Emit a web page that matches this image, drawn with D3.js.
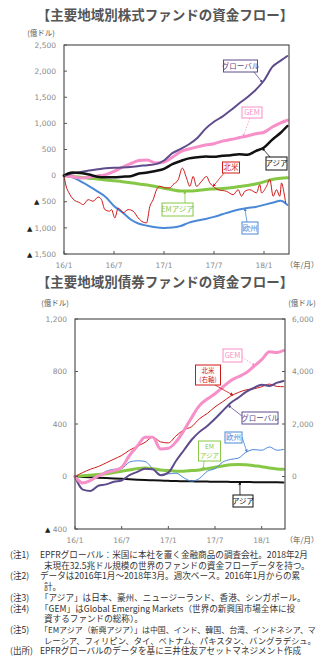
<!DOCTYPE html>
<html><head><meta charset="utf-8">
<script src="https://cdn.jsdelivr.net/npm/d3@7"></script>
<style>body{margin:0;background:#fff}</style>
</head><body><svg id="c" width="329" height="663"></svg>
<script>
// ---------- DATA ----------
const months = [0,1,2,3,4,5,6,7,8,9,10,11,12,13,14,15,16,17,18,19,20,21,22,23,24,25,26,26.8];
const xTickMonths = [0,6,12,18,24];
const xTickLabels = ["16/1","16/7","17/1","17/7","18/1"];

// Chart 1: equity funds (100M USD)
const eqGlobal = [0,40,70,100,120,140,150,155,165,185,200,220,290,430,510,600,720,900,1030,1130,1250,1380,1500,1640,1820,2080,2200,2290];
const eqGEM    = [0,-20,-45,-30,-5,20,80,160,230,290,300,240,260,350,460,510,550,585,610,660,690,725,760,800,830,930,1010,1060];
const eqAsia   = [0,60,50,20,-20,-30,-30,-20,-10,40,60,90,130,220,280,330,350,365,360,380,390,410,400,470,540,690,820,950];
const eqEMAsia = [0,-15,-30,-50,-65,-85,-100,-115,-135,-160,-180,-210,-240,-270,-295,-295,-285,-265,-255,-245,-230,-210,-190,-160,-120,-75,-50,-40];
const eqEurope = [0,-30,-110,-200,-300,-410,-580,-700,-840,-920,-960,-990,-1000,-995,-965,-900,-860,-830,-790,-740,-690,-650,-620,-600,-560,-520,-480,-560];
const naMonths = [0,0.25,0.6,1.1,1.9,2.3,2.9,3.5,4.1,4.5,4.9,5.5,5.7,6.1,6.5,7.1,7.7,8.3,8.9,9.5,9.9,10.3,10.7,11.1,11.5,12.1,12.7,13.1,13.7,14.2,14.7,15.1,15.5,15.9,16.5,17.1,17.5,17.9,18.5,19.5,20.3,20.9,21.3,21.7,22.3,23.1,23.5,23.7,24.3,24.7,25.1,25.5,25.9,26.1,26.4,26.6];
const eqNorthAmerica = [0,-200,-330,-450,-520,-555,-460,-490,-410,-460,-650,-680,-650,-810,-620,-710,-650,-680,-810,-890,-905,-590,-460,-270,-205,-235,-235,-170,-80,145,-45,-205,-15,-205,-110,-15,-140,-205,-270,-300,-365,-270,-395,-300,-270,-330,-170,-330,-205,-75,-395,-270,-395,-140,-330,-520];

const y1Ticks = [2500,2000,1500,1000,500,0,-500,-1000,-1500];

// Chart 2: bond funds (left axis 100M USD, North America on right axis)
const bdGEM    = [0,-50,-30,5,30,45,70,160,230,300,300,210,215,265,350,450,540,590,630,680,730,760,790,840,890,950,945,960];
const bdGlobal = [0,-100,-110,-70,-60,-40,-30,10,35,60,55,10,30,120,200,280,340,385,440,500,560,600,645,675,700,690,715,728];
const bdEurope = [0,-45,-30,0,40,55,60,110,120,115,60,15,20,25,-10,-35,-15,40,60,110,130,140,185,205,200,225,200,206];
const bdEMAsia = [0,5,10,15,20,30,40,50,60,65,60,50,45,40,40,45,50,60,70,80,90,92,90,82,75,65,58,55];
const bdAsia   = [0,-3,-6,-9,-12,-15,-18,-21,-24,-27,-29,-31,-33,-35,-36,-37,-38,-39,-40,-40,-41,-42,-42,-43,-43,-44,-44,-45];
const bdNorthAmericaR = [0,150,280,380,520,660,800,1000,1150,1300,1500,1320,1280,1550,1780,1900,2200,2400,2650,2850,3060,3200,3300,3340,3420,3520,3430,3420];

const y2LeftTicks = [1200,800,400,0,-400];
const y2RightTicks = [6000,4000,2000,0];

const notes = [
  ["(注1)","EPFRグローバル：米国に本社を置く金融商品の調査会社。2018年2月"],
  ["","末現在32.5兆ドル規模の世界のファンドの資金フローデータを持つ。"],
  ["(注2)","データは2016年1月～2018年3月。週次ベース。2016年1月からの累"],
  ["","計。"],
  ["(注3)","「アジア」は日本、豪州、ニュージーランド、香港、シンガポール。"],
  ["(注4)","「GEM」はGlobal Emerging Markets（世界の新興国市場全体に投"],
  ["","資するファンドの総称）。"],
  ["(注5)","「EMアジア（新興アジア）」は中国、インド、韓国、台湾、インドネシア、マ"],
  ["","レーシア、フィリピン、タイ、ベトナム、パキスタン、バングラデシュ。"],
  ["(出所)","EPFRグローバルのデータを基に三井住友アセットマネジメント作成"]
];

// ---------- DRAW ----------
const C = {global:"#5e4b8b", gem:"#f78fc8", asia:"#111", emasia:"#86c846", europe:"#4a88d8", na:"#d01818"};
const svg = d3.select("#c");
const JP = "'Noto Sans CJK JP','Noto Sans',sans-serif";
const NUM = "'DejaVu Sans',sans-serif";
const gray = "#8a8a8a";

const defs = svg.append("defs");
Object.entries(C).forEach(([k,c])=>{
  defs.append("marker").attr("id","ar-"+k).attr("viewBox","0 0 6 6").attr("refX",5).attr("refY",3)
    .attr("markerWidth",4).attr("markerHeight",4).attr("orient","auto")
    .append("path").attr("d","M0,0L6,3L0,6Z").attr("fill",c);
});

function valAt(ts, vs, t){
  for(let i=1;i<ts.length;i++){ if(t<=ts[i]){ const f=(t-ts[i-1])/(ts[i]-ts[i-1]); return vs[i-1]+f*(vs[i]-vs[i-1]); } }
  return vs[vs.length-1];
}
function fmt(v){ return v<0 ? d3.format(",")(-v) : d3.format(",")(v); }

function title(txt, y){
  svg.append("text").attr("x",165).attr("y",y).attr("text-anchor","middle")
    .attr("font-family",JP).attr("font-weight","bold").attr("font-size","13.5px").attr("fill","#555").text(txt);
}
function smallText(txt,x,y,anchor){
  svg.append("text").attr("x",x).attr("y",y).attr("text-anchor",anchor||"start")
    .attr("font-family",JP).attr("font-size","7.5px").attr("fill","#555").text(txt);
}

function frame(x0,x1,y0,y1){
  svg.append("rect").attr("x",x0).attr("y",y0).attr("width",x1-x0).attr("height",y1-y0)
    .attr("fill","none").attr("stroke","#333").attr("stroke-width",1);
}

function yLabels(scale, ticks, x, anchor, tickX, tickDir){
  ticks.forEach(v=>{
    const t = svg.append("text").attr("x",x).attr("y",scale(v)).attr("dy","0.35em")
      .attr("text-anchor",anchor).attr("font-family",NUM).attr("font-size","7.5px").attr("fill",gray);
    if(v<0){ t.append("tspan").attr("fill","#222").attr("font-size","7px").text("▲ "); }
    t.append("tspan").text(fmt(v));
    svg.append("line").attr("x1",tickX).attr("x2",tickX+tickDir*3).attr("y1",scale(v)).attr("y2",scale(v))
      .attr("stroke","#555").attr("stroke-width",1);
  });
}
function xLabels(scale, yAxis, yLab){
  xTickMonths.forEach((m,i)=>{
    svg.append("line").attr("x1",scale(m)).attr("x2",scale(m)).attr("y1",yAxis).attr("y2",yAxis-3)
      .attr("stroke","#555").attr("stroke-width",1);
    svg.append("text").attr("x",scale(m)).attr("y",yLab).attr("text-anchor","middle")
      .attr("font-family",NUM).attr("font-size","7.5px").attr("fill",gray).text(xTickLabels[i]);
  });
}
function series(x,y,ts,vs,color,w){
  const line = d3.line().x((d,i)=>x(ts[i])).y(d=>y(d)).curve(d3.curveMonotoneX);
  svg.append("path").datum(vs).attr("d",line).attr("fill","none").attr("stroke",color)
    .attr("stroke-width",w).attr("stroke-linejoin","round").attr("stroke-linecap","round");
}
function note(lines, cx, cy, w, h, color, key, from, to, dashed, textColor){
  svg.append("line").attr("x1",from[0]).attr("y1",from[1]).attr("x2",to[0]).attr("y2",to[1])
    .attr("stroke",color).attr("stroke-width",0.8).attr("stroke-dasharray",dashed?"1.5,1.5":null)
    .attr("marker-end","url(#ar-"+key+")");
  svg.append("rect").attr("x",cx-w/2).attr("y",cy-h/2).attr("width",w).attr("height",h)
    .attr("fill","#fff").attr("stroke",color).attr("stroke-width",1);
  const fs = lines.length>1 ? 6.5 : 7.5;
  lines.forEach((l,i)=>{
    svg.append("text").attr("x",cx).attr("y",cy+(i-(lines.length-1)/2)*9).attr("dy","0.35em")
      .attr("text-anchor","middle").attr("font-family",JP).attr("font-size",fs+"px")
      .attr("fill",textColor||color).text(l);
  });
}

// ---- Chart 1 ----
title("【主要地域別株式ファンドの資金フロー】", 20);
smallText("(億ドル)", 41, 36, "middle");
const x1 = d3.scaleLinear([0,27],[64,289]);
const y1 = d3.scaleLinear([-1500,2500],[254,45]);
series(x1,y1,months,eqEMAsia,C.emasia,3);
series(x1,y1,months,eqEurope,C.europe,2);
series(x1,y1,naMonths,eqNorthAmerica,C.na,1);
series(x1,y1,months,eqGEM,C.gem,3);
series(x1,y1,months,eqGlobal,C.global,2);
series(x1,y1,months,eqAsia,C.asia,2.5);
frame(64,289,45,254);
yLabels(y1,y1Ticks,56,"end",64,1);
xLabels(x1,254,268);
smallText("（年/月）", 302, 268, "middle");

const p1 = (ts,vs,t)=>[x1(t), y1(valAt(ts,vs,t))];
note(["グローバル"],240.5,66,34,12,C.global,"global",[254,72],p1(months,eqGlobal,23.8));
note(["GEM"],252,112.5,20,11,C.gem,"gem",[250,118],p1(months,eqGEM,21.5),true);
note(["北米"],231,167.5,17,11,C.na,"na",[224,173],p1(naMonths,eqNorthAmerica,17.9));
note(["アジア"],276.5,163.5,21,13,"#111","asia",[270,157],p1(months,eqAsia,23.8));
note(["EMアジア"],177.5,209.5,31,13,C.emasia,"emasia",[185,203],p1(months,eqEMAsia,14.5));
note(["欧州"],250,228,16,12,C.europe,"europe",[247,222],p1(months,eqEurope,21.7));

// ---- Chart 2 ----
title("【主要地域別債券ファンドの資金フロー】", 287);
smallText("(億ドル)", 55, 306, "middle");
smallText("(億ドル)", 302, 306, "middle");
const x2 = d3.scaleLinear([0,27],[75,285]);
const y2L = d3.scaleLinear([-400,1200],[529,319]);
const y2R = d3.scaleLinear([-2000,6000],[529,319]);
series(x2,y2L,months,bdAsia,C.asia,2);
series(x2,y2L,months,bdEMAsia,C.emasia,3);
series(x2,y2L,months,bdEurope,C.europe,1);
series(x2,y2R,months,bdNorthAmericaR,C.na,1);
series(x2,y2L,months,bdGlobal,C.global,2);
series(x2,y2L,months,bdGEM,C.gem,3);
frame(75,285,319,529);
yLabels(y2L,y2LeftTicks,67,"end",75,1);
yLabels(y2R,y2RightTicks,292,"start",285,-1);
xLabels(x2,529,543);
smallText("（年/月）", 302, 543, "middle");

const p2 = (vs,t,sc)=>[x2(t), (sc||y2L)(valAt(months,vs,t))];
note(["GEM"],232.5,355.5,19,13,C.gem,"gem",[242,357],p2(bdGEM,23.1),true);
note(["北米","(右軸)"],208,375,25,20,C.na,"na",[215,385],p2(bdNorthAmericaR,20.3,y2R));
note(["グローバル"],260,418,36,12,C.global,"global",[242,416],p2(bdGlobal,19.7));
note(["欧州"],233.5,437.5,17,11,C.europe,"europe",[242,437],p2(bdEurope,22.1));
note(["EM","アジア"],209.5,451,22,20,C.emasia,"emasia",[204,461],p2(bdEMAsia,16.5));
note(["アジア"],243,501,20,12,"#111","asia",[240,495],p2(bdAsia,21.2));

// ---- Notes ----
const noteY0 = 558, noteDy = 10.7, noteFS = 8.6;
notes.forEach((n,i)=>{
  const y = noteY0 + i*noteDy;
  if(n[0]) svg.append("text").attr("x",10).attr("y",y).attr("font-family",JP).attr("font-size",noteFS+"px").attr("fill","#333").text(n[0]);
  const x = n[0]?40:44;
  const t = svg.append("text").attr("x",x).attr("y",y).attr("font-family",JP).attr("font-size",noteFS+"px").attr("fill","#333").text(n[1]);
  const maxW = 316 - x;
  const w = t.node().getComputedTextLength();
  if(w > maxW){ t.attr("font-size",(noteFS*maxW/w).toFixed(2)+"px"); }
});
</script></body></html>
